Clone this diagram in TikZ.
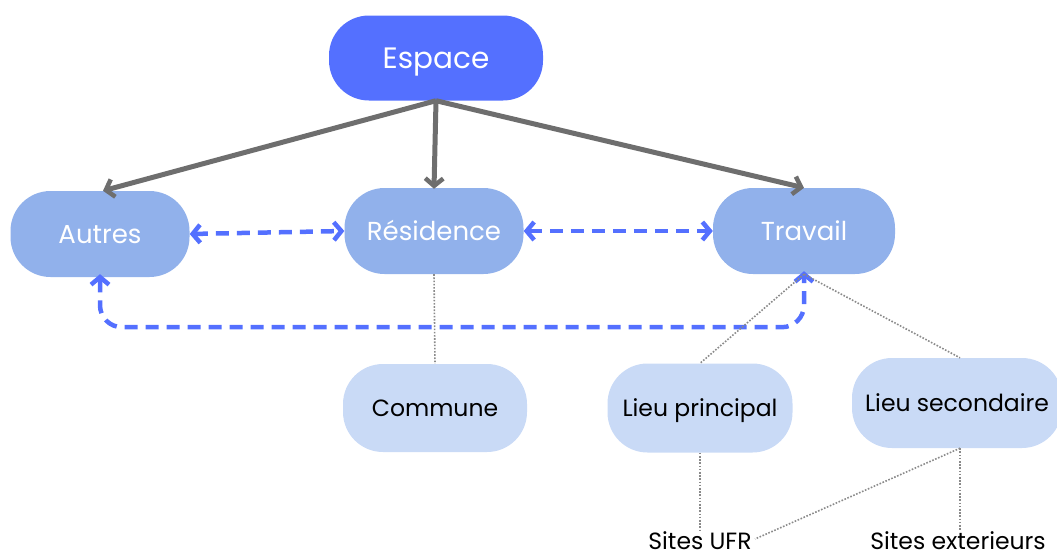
\documentclass[tikz,border=0pt]{standalone}
\usepackage{fontspec}
\setmainfont{Poppins}
\usetikzlibrary{arrows.meta}
\definecolor{cTop}{HTML}{5470FF}
\definecolor{cMid}{HTML}{91B1EB}
\definecolor{cLow}{HTML}{C9DAF6}
\definecolor{cGray}{HTML}{6E6E6E}
\definecolor{cDot}{HTML}{8A8A8A}
\tikzset{
  box/.style={rectangle, rounded corners=40pt, inner sep=0pt, align=center, text depth=0pt},
  topbox/.style={box, fill=cTop, text=white, minimum width=214pt, minimum height=85pt, text height=20.6pt, font=\fontsize{29.5}{33}\selectfont},
  midbox/.style={box, fill=cMid, text=white, minimum width=179pt, minimum height=86pt, text height=18.2pt, font=\fontsize{26}{30}\selectfont},
  lowbox/.style={box, fill=cLow, text=black, minimum width=184pt, minimum height=88pt, text height=16.5pt, font=\fontsize{23.5}{27}\selectfont},
  leaf/.style={inner sep=0pt, text=black, font=\fontsize{23.5}{27}\selectfont},
  solidarrow/.style={draw=cGray, line width=5pt, -{Straight Barb[length=7.5pt,width=18pt,line width=4.5pt]}},
  dasharrow/.style={draw=cTop, line width=4.5pt, dash pattern=on 13pt off 8pt, {Straight Barb[length=7.5pt,width=18pt,line width=4.5pt]}-{Straight Barb[length=7.5pt,width=18pt,line width=4.5pt]}},
  dotline/.style={draw=cDot, line width=1.6pt, dash pattern=on 1.6pt off 1.6pt},
}
\begin{document}
\begin{tikzpicture}[x=1pt,y=-1pt]
\useasboundingbox (0,0) rectangle (1057,558);
\node[topbox] (espace) at (436,58) {Espace};
\node[midbox] (autres) at (100,234) {Autres};
\node[midbox] (residence) at (434,231) {Résidence};
\node[midbox, minimum width=182pt] (travail) at (804,231) {Travail};
\node[lowbox] (commune) at (435,408) {Commune};
\node[lowbox, minimum width=185pt, minimum height=89pt] (principal) at (700,408) {Lieu principal};
\node[lowbox, minimum width=210pt, minimum height=90pt] (secondaire) at (957,403) {Lieu secondaire};
\node[leaf, anchor=base] (ufr) at (700,549) {Sites UFR};
\node[leaf, anchor=base] (ext) at (958,549) {Sites exterieurs};
\coordinate (ufrE) at (755,539);
\coordinate (ufrT) at (700,530);
\coordinate (extT) at (960,530);

\draw[solidarrow] (espace.south) -- ([xshift=3pt]autres.north);
\draw[solidarrow] (espace.south) -- ([yshift=-1pt]residence.north);
\draw[solidarrow] (espace.south) -- (travail.north);

\draw[dasharrow] (autres.east) -- (residence.west);
\draw[dasharrow] (residence.east) -- (travail.west);
\draw[dasharrow, rounded corners=22pt] ([yshift=3pt]autres.south) -- ++(0,53) -| ([yshift=3pt]travail.south);

\draw[dotline] (residence.south) -- (commune.north);
\draw[dotline] (travail.south) -- (principal.north);
\draw[dotline] (travail.south) -- ([xshift=3pt]secondaire.north);
\draw[dotline] (principal.south) -- (ufrT);
\draw[dotline] ([xshift=3pt]secondaire.south) -- (ufrE);
\draw[dotline] ([xshift=3pt]secondaire.south) -- (extT);
\end{tikzpicture}
\end{document}
